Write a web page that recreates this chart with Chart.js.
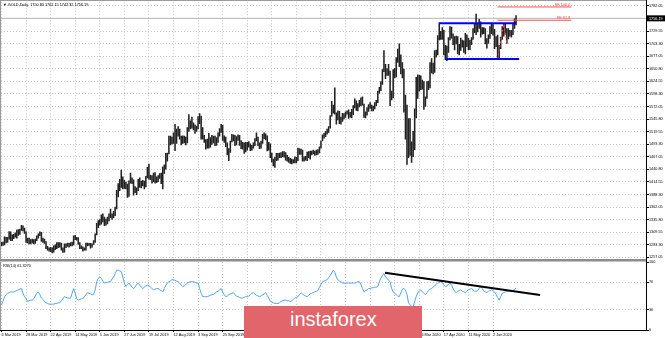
<!DOCTYPE html>
<html>
<head>
<meta charset="utf-8">
<script src="https://cdn.jsdelivr.net/npm/chart.js@4.4.1/dist/chart.umd.min.js"></script>
<style>
  html, body { margin: 0; padding: 0; background: #fff; }
  #wrap { position: relative; width: 665px; height: 338px; overflow: hidden; }
  #price { position: absolute; left: 0; top: 0; }
  #rsi { position: absolute; left: 0; top: 259px; }
  #logo {
    position: absolute; left: 244px; top: 306px; width: 178px; height: 32px;
    background: #e1656a; color: #fff;
    font-family: "Liberation Sans", Arial, sans-serif; font-size: 20px; line-height: 27px;
    padding-left: 46px; box-sizing: border-box;
  }
</style>
</head>
<body>
<div id="wrap">
  <canvas id="price" width="665" height="262"></canvas>
  <canvas id="rsi" width="665" height="79"></canvas>
  <div id="logo">instaforex</div>
</div>
<script>
// one date label every 16 daily bars, first one on bar 0
const dateLabels = ['6 Mar 2019', '28 Mar 2019', '22 Apr 2019', '14 May 2019', '5 Jun 2019', '27 Jun 2019',
  '19 Jul 2019', '12 Aug 2019', '3 Sep 2019', '25 Sep 2019', '17 Oct 2019', '8 Nov 2019', '2 Dec 2019',
  '24 Dec 2019', '17 Jan 2020', '10 Feb 2020', '4 Mar 2020', '26 Mar 2020', '17 Apr 2020', '11 May 2020', '2 Jun 2020'];
const barsPerLabel = 16;

const priceTicks = [1782.05, 1729.55, 1703.30, 1677.05, 1650.80, 1624.55, 1598.30, 1572.05, 1545.80, 1519.55,
  1493.30, 1467.05, 1440.80, 1414.55, 1388.30, 1362.05, 1335.80, 1309.55, 1283.30, 1257.05];
const rsiTicks = [0, 30, 70, 100];

const lows = [
  1281,1282,1283,1287,1288,1295,1292,1292,1296,1299,1297,1303,1305,1313,1312,1307,
  1288,1287,1285,1285,1287,1285,1286,1292,1297,1302,1290,1288,1286,1275,1272,1270,
  1269,1266,1268,1273,1275,1277,1278,1272,1267,1268,1277,1280,1278,1281,1281,1283,
  1294,1293,1284,1275,1275,1270,1272,1272,1281,1282,1276,1278,1284,1288,1304,1319,
  1324,1326,1331,1323,1324,1327,1333,1340,1336,1340,1344,1358,1383,1396,1403,1400,
  1401,1400,1382,1384,1412,1411,1387,1392,1388,1396,1403,1402,1406,1400,1404,1423,
  1420,1419,1412,1415,1412,1413,1415,1422,1411,1400,1432,1441,1458,1473,1492,1494,
  1495,1480,1495,1510,1504,1492,1495,1496,1492,1496,1520,1525,1527,1523,1516,1520,
  1525,1536,1504,1504,1497,1483,1485,1485,1487,1493,1496,1490,1491,1497,1510,1518,
  1501,1497,1488,1471,1459,1476,1498,1500,1490,1492,1501,1491,1484,1483,1474,1477,
  1481,1487,1480,1481,1485,1490,1500,1490,1484,1485,1495,1505,1502,1479,1481,1465,
  1456,1448,1445,1459,1460,1465,1465,1467,1466,1460,1458,1455,1453,1452,1454,1454,
  1454,1459,1472,1472,1458,1458,1460,1459,1465,1462,1471,1473,1470,1471,1472,1475,
  1485,1500,1506,1509,1514,1518,1527,1552,1558,1556,1535,1544,1536,1535,1541,1546,
  1549,1556,1547,1550,1548,1555,1569,1564,1563,1571,1574,1575,1549,1548,1554,1562,
  1568,1563,1563,1567,1574,1580,1600,1605,1618,1645,1630,1637,1637,1574,1586,1590,
  1632,1634,1664,1655,1640,1632,1560,1504,1451,1465,1470,1455,1467,1482,1548,1589,
  1604,1607,1608,1566,1572,1589,1607,1611,1642,1640,1643,1675,1680,1711,1712,1712,
  1680,1670,1668,1685,1711,1715,1701,1690,1703,1682,1680,1689,1696,1685,1682,1697,
  1691,1691,1701,1712,1726,1722,1728,1735,1717,1723,1724,1703,1694,1704,1714,1724,
  1721,1693,1697,1671,1674,1693,1712,1719,1723,1704,1713,1719,1717,1722,1735,1742.32
];
const highs = [
  1289,1289,1300,1299,1299,1311,1310,1304,1305,1308,1314,1315,1316,1324,1323,1318,
  1310,1297,1297,1294,1295,1294,1295,1302,1306,1310,1309,1297,1295,1290,1280,1277,
  1278,1277,1281,1283,1288,1288,1288,1287,1277,1285,1285,1287,1286,1288,1289,1302,
  1303,1299,1298,1288,1281,1279,1277,1287,1287,1286,1286,1285,1292,1306,1328,1334,
  1336,1346,1348,1341,1337,1341,1348,1358,1348,1353,1362,1397,1411,1420,1439,1425,
  1418,1414,1410,1417,1433,1423,1419,1405,1402,1420,1423,1416,1418,1416,1426,1445,
  1452,1429,1428,1433,1434,1425,1428,1432,1433,1446,1450,1474,1475,1510,1510,1508,
  1517,1535,1525,1530,1525,1510,1511,1510,1508,1528,1555,1542,1550,1538,1534,1531,
  1551,1557,1552,1528,1512,1503,1504,1516,1507,1512,1510,1510,1507,1517,1526,1535,
  1533,1511,1508,1496,1484,1500,1514,1513,1512,1509,1513,1512,1501,1497,1496,1497,
  1497,1499,1494,1491,1496,1505,1517,1508,1496,1500,1514,1517,1515,1511,1497,1494,
  1475,1462,1466,1474,1474,1475,1476,1478,1478,1476,1470,1466,1464,1462,1461,1467,
  1466,1485,1484,1483,1481,1467,1468,1477,1478,1479,1479,1481,1479,1481,1482,1488,
  1500,1513,1516,1520,1525,1530,1553,1583,1575,1611,1559,1563,1562,1550,1558,1557,
  1561,1563,1565,1560,1566,1574,1588,1584,1578,1585,1590,1592,1577,1561,1570,1576,
  1580,1575,1573,1580,1585,1604,1612,1624,1649,1689,1660,1651,1660,1646,1604,1649,
  1652,1674,1692,1703,1680,1664,1650,1596,1575,1547,1547,1498,1520,1567,1633,1638,
  1637,1636,1627,1624,1592,1624,1625,1664,1672,1663,1689,1690,1720,1747,1729,1737,
  1731,1700,1698,1716,1739,1738,1724,1718,1719,1718,1702,1715,1711,1709,1725,1722,
  1715,1710,1716,1735,1745,1765,1745,1754,1749,1737,1737,1735,1714,1722,1739,1745,
  1744,1733,1718,1721,1700,1717,1739,1744,1744,1735,1735,1731,1731,1745,1755,1762.15
];
const rsi = [
  37,42,49,52,54,55,56,56,56,57,58,59,60,61,54,49,
  46,42,43,44,44,46,50,54,56,52,47,45,42,40,39,38,
  38,38,38,39,39,40,40,43,46,49,48,47,47,47,54,61,
  54,46,44,45,46,46,49,52,55,54,53,52,52,59,71,76,
  78,76,72,69,70,70,71,71,75,78,83,88,88,87,86,78,
  69,64,67,69,66,63,61,63,67,69,66,63,61,63,65,66,
  65,63,61,59,60,61,61,59,58,56,61,66,69,71,72,74,
  74,73,72,71,69,66,64,65,67,69,70,71,71,71,70,69,
  69,61,54,49,49,49,49,50,51,52,52,54,56,57,59,61,
  56,52,49,50,52,53,54,55,52,50,49,48,47,47,48,49,
  49,50,52,54,55,53,51,50,49,50,52,53,55,51,47,42,
  41,40,39,39,39,40,42,43,44,44,43,43,42,43,45,47,
  48,49,52,55,53,51,50,49,51,53,54,55,56,57,58,63,
  67,71,72,73,74,77,80,84,88,85,78,74,72,71,69,69,
  69,69,69,69,69,69,69,70,71,71,67,61,56,58,59,61,
  61,62,62,63,63,64,71,76,80,83,78,76,73,71,61,56,
  54,52,50,49,55,60,61,59,52,40,37,35,34,42,49,55,
  57,59,56,54,52,55,58,60,61,63,65,67,69,70,71,69,
  66,64,65,67,69,66,61,57,55,57,58,59,57,56,55,57,
  59,60,61,59,57,57,58,61,64,61,57,56,55,57,58,59,
  58,56,52,48,44,49,54,55,56,57,57,57,57,57,60,61.327
];

const lastBar = {open: 1750.80, high: 1762.15, low: 1742.32, close: 1756.19};

// drawn objects, in bar index / price units
const boxLines = [{from: 285, to: 335, price: 1746.1}, {from: 289, to: 337, price: 1671.3}];
const fibLevels = [{label: 'FE 100.0', from: 323, to: 371, price: 1780.0}, {label: 'FE 61.8', from: 323, to: 371, price: 1752.3}];
const fibPath = [[323, 1671], [327, 1744], [329, 1704]];
const rsiTrend = [[249.7, 84.3], [350.6, 51.5]];

const xMin = -0.3, xMax = 419.6;
const font = '"Liberation Sans", Arial, sans-serif';
const gridColor = '#c4c4c4';

const dateTicks = s => { s.ticks = dateLabels.map((_, k) => ({value: k * barsPerLabel})); };

const priceOverlay = {
  id: 'price-overlay',
  afterDraw(chart) {
    const {ctx, chartArea: {left, top, right, bottom}, scales: {x, y}} = chart;
    ctx.save();
    ctx.lineWidth = 1;
    ctx.strokeStyle = '#9a9a9a';
    ctx.beginPath();
    ctx.moveTo(0.5, 0); ctx.lineTo(0.5, bottom);
    ctx.moveTo(0, 0.5); ctx.lineTo(right, 0.5);
    ctx.stroke();
    ctx.strokeStyle = '#000';
    ctx.beginPath(); ctx.moveTo(right + 0.5, 0); ctx.lineTo(right + 0.5, chart.height); ctx.stroke();
    ctx.fillStyle = '#8c8c8c';
    ctx.fillRect(0, bottom, right, 2.5);

    ctx.font = `3.8px ${font}`;
    ctx.fillStyle = '#000';
    ctx.textAlign = 'left';
    ctx.textBaseline = 'middle';
    const title = `\u25BC GOLD,Daily  ${lastBar.open.toFixed(2)} ${lastBar.high.toFixed(2)} ${lastBar.low.toFixed(2)} ${lastBar.close.toFixed(2)}`;
    ctx.fillText(title, 3, 4.5);

    ctx.fillStyle = '#ff4040';
    ctx.textAlign = 'right';
    ctx.textBaseline = 'bottom';
    fibLevels.forEach(f => ctx.fillText(f.label, x.getPixelForValue(f.to) - 1, y.getPixelForValue(f.price) - 0.5));

    const by = y.getPixelForValue(lastBar.close);
    ctx.fillStyle = '#000';
    ctx.fillRect(right + 1, by - 3, chart.width - right - 1, 6);
    ctx.fillStyle = '#fff';
    ctx.textAlign = 'left';
    ctx.textBaseline = 'middle';
    ctx.fillText(lastBar.close.toFixed(2), right + 3, by + 0.3);
    ctx.restore();
  }
};

const rsiOverlay = {
  id: 'rsi-overlay',
  afterDraw(chart) {
    const {ctx, chartArea: {left, top, right, bottom}} = chart;
    ctx.save();
    ctx.lineWidth = 1;
    ctx.strokeStyle = '#9a9a9a';
    ctx.beginPath(); ctx.moveTo(0.5, top); ctx.lineTo(0.5, bottom); ctx.stroke();
    ctx.strokeStyle = '#000';
    ctx.beginPath();
    ctx.moveTo(right + 0.5, 0); ctx.lineTo(right + 0.5, bottom + 0.5);
    ctx.moveTo(0, bottom + 0.5); ctx.lineTo(right + 0.5, bottom + 0.5);
    ctx.stroke();
    ctx.font = `3.8px ${font}`;
    ctx.fillStyle = '#000';
    ctx.textAlign = 'left';
    ctx.textBaseline = 'middle';
    ctx.fillText(`RSI(14) ${rsi[rsi.length - 1].toFixed(4)}`, 3, top + 3.5);
    ctx.restore();
  }
};

const candles = lows.map((lo, i) => ({x: i, y: [lo, highs[i]]}));
const flat = (a, b, v) => [{x: a, y: v}, {x: b, y: v}];

new Chart(document.getElementById('price'), {
  type: 'bar',
  data: {
    datasets: [
      {type: 'line', data: flat(xMin, xMax, lastBar.close), borderColor: '#b4b4b4', borderWidth: 1, pointRadius: 0, order: 5},
      {type: 'bar', data: candles, backgroundColor: '#222', borderWidth: 0, barThickness: 0.9, grouped: false, order: 3},
      ...boxLines.map(b => ({type: 'line', data: flat(b.from, b.to, b.price), borderColor: '#0000ff', borderWidth: 2, pointRadius: 0, order: 1})),
      ...fibLevels.map(f => ({type: 'line', data: flat(f.from, f.to, f.price), borderColor: '#ff4a4a', borderWidth: 1, pointRadius: 0, order: 1})),
      {type: 'line', data: fibPath.map(([x, y]) => ({x, y})), borderColor: '#ff4a4a', borderWidth: 1, borderDash: [2, 2], pointRadius: 0, order: 1}
    ]
  },
  options: {
    responsive: false,
    animation: false,
    devicePixelRatio: 1,
    layout: {padding: {left: 1, top: 1, right: 0, bottom: 3}},
    plugins: {legend: {display: false}, tooltip: {enabled: false}},
    scales: {
      x: {
        type: 'linear', min: xMin, max: xMax, offset: false,
        afterBuildTicks: dateTicks,
        afterFit: s => { s.height = 0; },
        ticks: {display: false},
        grid: {color: gridColor, drawTicks: false, offset: false},
        border: {display: false, dash: [1, 2]}
      },
      y: {
        type: 'linear', position: 'right', min: 1253.5, max: 1789.74,
        afterBuildTicks: s => { s.ticks = priceTicks.map(v => ({value: v})); },
        afterFit: s => { s.width = 19; },
        ticks: {font: {family: font, size: 3.8}, color: '#000', padding: 0, callback: v => v.toFixed(2)},
        grid: {color: gridColor, tickLength: 3, tickColor: '#000'},
        border: {display: false, dash: [1, 2]}
      }
    }
  },
  plugins: [priceOverlay]
});

new Chart(document.getElementById('rsi'), {
  type: 'line',
  data: {
    datasets: [
      {data: rsi.map((v, i) => ({x: i, y: v})), borderColor: '#4ea3f2', borderWidth: 1, pointRadius: 0, tension: 0, order: 2},
      {data: rsiTrend.map(([x, y]) => ({x, y})), borderColor: '#000', borderWidth: 2, pointRadius: 0, order: 1}
    ]
  },
  options: {
    responsive: false,
    animation: false,
    devicePixelRatio: 1,
    layout: {padding: {left: 1, top: 3, right: 0, bottom: 0}},
    plugins: {legend: {display: false}, tooltip: {enabled: false}},
    scales: {
      x: {
        type: 'linear', min: xMin, max: xMax,
        afterBuildTicks: dateTicks,
        afterFit: s => { s.height = 8; },
        ticks: {font: {family: font, size: 3.8}, color: '#000', padding: 0.5, align: 'start', autoSkip: false, maxRotation: 0,
          callback: (v, i) => dateLabels[i]},
        grid: {color: gridColor, tickLength: 2, tickColor: '#000'},
        border: {display: false, dash: [1, 2]}
      },
      y: {
        type: 'linear', position: 'right', min: 0, max: 100,
        afterBuildTicks: s => { s.ticks = rsiTicks.map(v => ({value: v})); },
        afterFit: s => { s.width = 19; },
        ticks: {font: {family: font, size: 3.8}, color: '#000', padding: 0},
        grid: {color: c => (c.tick && (c.tick.value === 30 || c.tick.value === 70)) ? gridColor : 'rgba(0,0,0,0)', tickLength: 3, tickColor: '#000'},
        border: {display: false, dash: [1, 2]}
      }
    }
  },
  plugins: [rsiOverlay]
});
</script>
</body>
</html>
